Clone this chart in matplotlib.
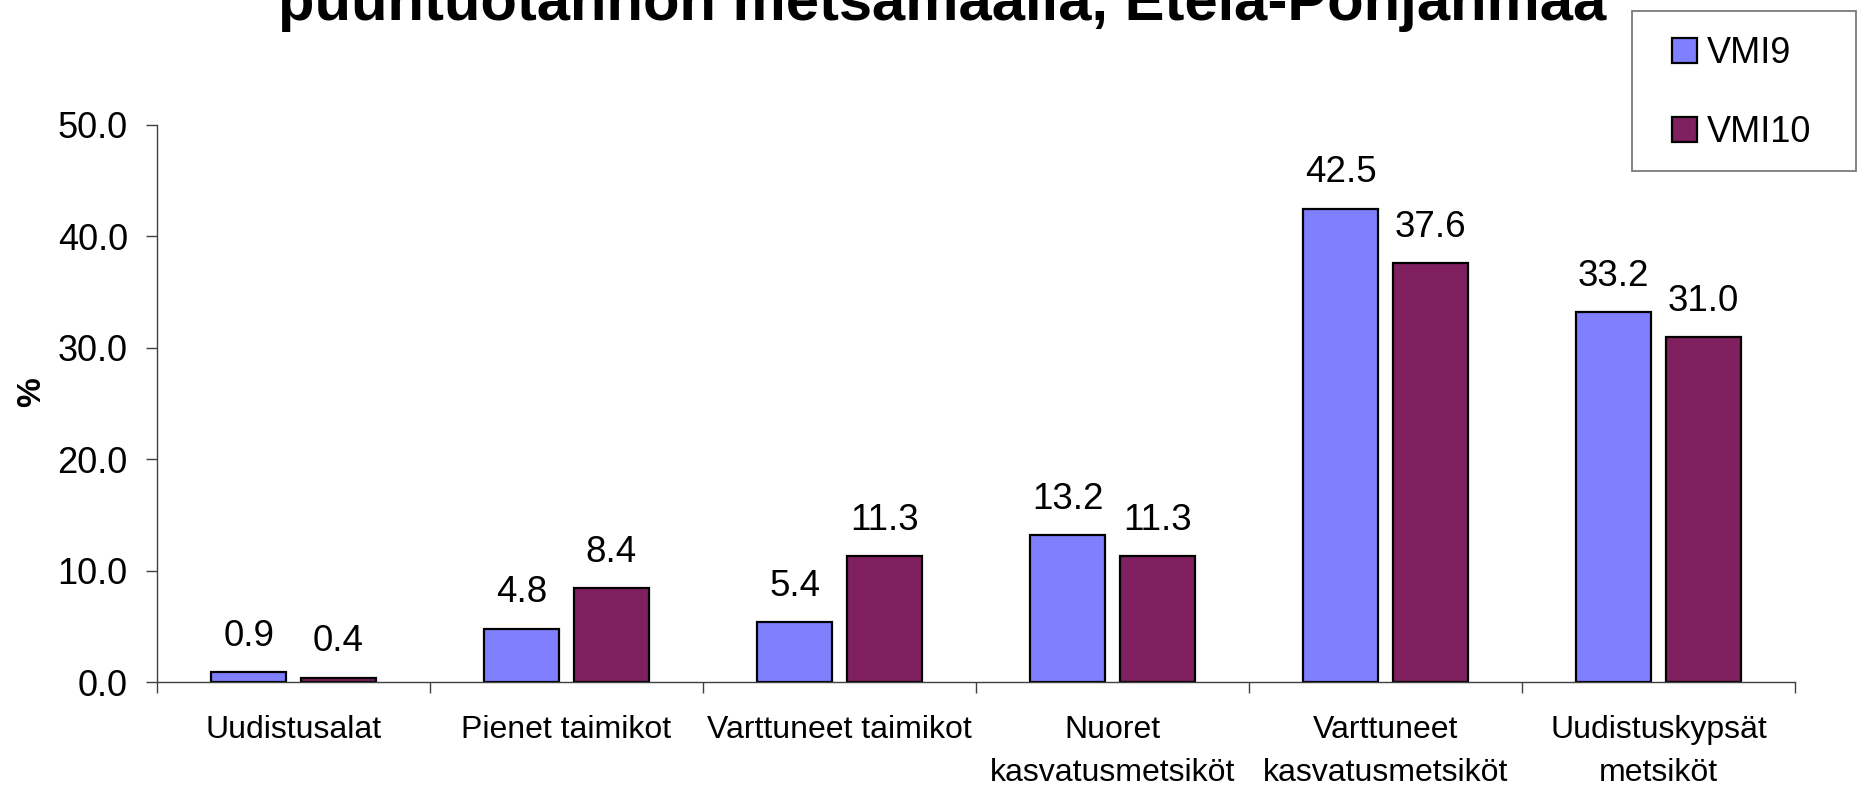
import matplotlib
matplotlib.use("Agg")
import matplotlib.pyplot as plt
from matplotlib.patches import Rectangle
import numpy as np

plt.rcParams['font.family'] = ['Liberation Sans', 'DejaVu Sans']

categories = ["Uudistusalat", "Pienet taimikot", "Varttuneet taimikot",
              "Nuoret\nkasvatusmetsiköt", "Varttuneet\nkasvatusmetsiköt",
              "Uudistuskypsät\nmetsiköt"]
vmi9 = [0.9, 4.8, 5.4, 13.2, 42.5, 33.2]
vmi10 = [0.4, 8.4, 11.3, 11.3, 37.6, 31.0]
series_names = ["VMI9", "VMI10"]
yticks = [0, 10, 20, 30, 40, 50]
title_line = "puuntuotannon metsämaalla, Etelä-Pohjanmaa"

W, H = 1870, 794
fig = plt.figure(figsize=(W / 100, H / 100), dpi=100)
ax = fig.add_axes([157 / W, 1 - 682 / H, (1795 - 157) / W, (682 - 125) / H])

x = np.arange(len(categories))
bw = 0.275
off = 0.1635
c9 = "#8080FF"
c10 = "#802060"
b1 = ax.bar(x - off, vmi9, bw, color=c9, edgecolor="black", linewidth=1.6, label=series_names[0])
b2 = ax.bar(x + off, vmi10, bw, color=c10, edgecolor="black", linewidth=1.6, label=series_names[1])

for bars, vals in ((b1, vmi9), (b2, vmi10)):
    for r, v in zip(bars, vals):
        ax.annotate(f"{v:.1f}", (r.get_x() + r.get_width() / 2, v),
                    xytext=(0, 13), textcoords="offset points",
                    ha="center", va="bottom", fontsize=26.5)

ax.set_xlim(-0.5, len(categories) - 0.5)
ax.set_ylim(0, 50)
ax.set_yticks(yticks)
ax.set_yticklabels([f"{t:.1f}" for t in yticks], fontsize=26)
ax.set_xticks(x)
ax.set_xticklabels(categories, fontsize=23, linespacing=1.55)
ax.set_xticks(np.arange(-0.5, len(categories), 1.0), minor=True)
ax.tick_params(axis="x", which="major", length=0, pad=24)
ax.tick_params(axis="x", which="minor", length=8, width=1, color="#404040", direction="out")
ax.tick_params(axis="y", length=8, width=1, color="#404040", direction="out", pad=13)
for s in ("top", "right"):
    ax.spines[s].set_visible(False)
for s in ("left", "bottom"):
    ax.spines[s].set_color("#404040")
    ax.spines[s].set_linewidth(1)
ax.spines["left"].set_bounds(0, 50)

ax.set_ylabel("%", fontsize=24, fontweight="bold")
ax.yaxis.set_label_coords(-(157 - 47) / (1795 - 157), 0.52)

fig.text(942 / W, 1 - 20 / H, title_line, ha="center", va="baseline",
         fontsize=43, fontweight="bold")

# legend frame
fig.patches.append(Rectangle((1632 / W, 1 - 171 / H), (1856 - 1632) / W, (171 - 11) / H,
                             transform=fig.transFigure, facecolor="white",
                             edgecolor="#707070", linewidth=1.2, zorder=5))
leg = fig.legend(handles=[b1, b2], labels=series_names, loc="center left",
                 bbox_to_anchor=(1672 / W, 1 - 93 / H), bbox_transform=fig.transFigure,
                 frameon=False, fontsize=26, handlelength=0.69, handleheight=0.69,
                 handletextpad=0.28, labelspacing=1.22, borderaxespad=0, borderpad=0)
leg.set_zorder(6)

fig.savefig("out.png", dpi=100, facecolor="white")
